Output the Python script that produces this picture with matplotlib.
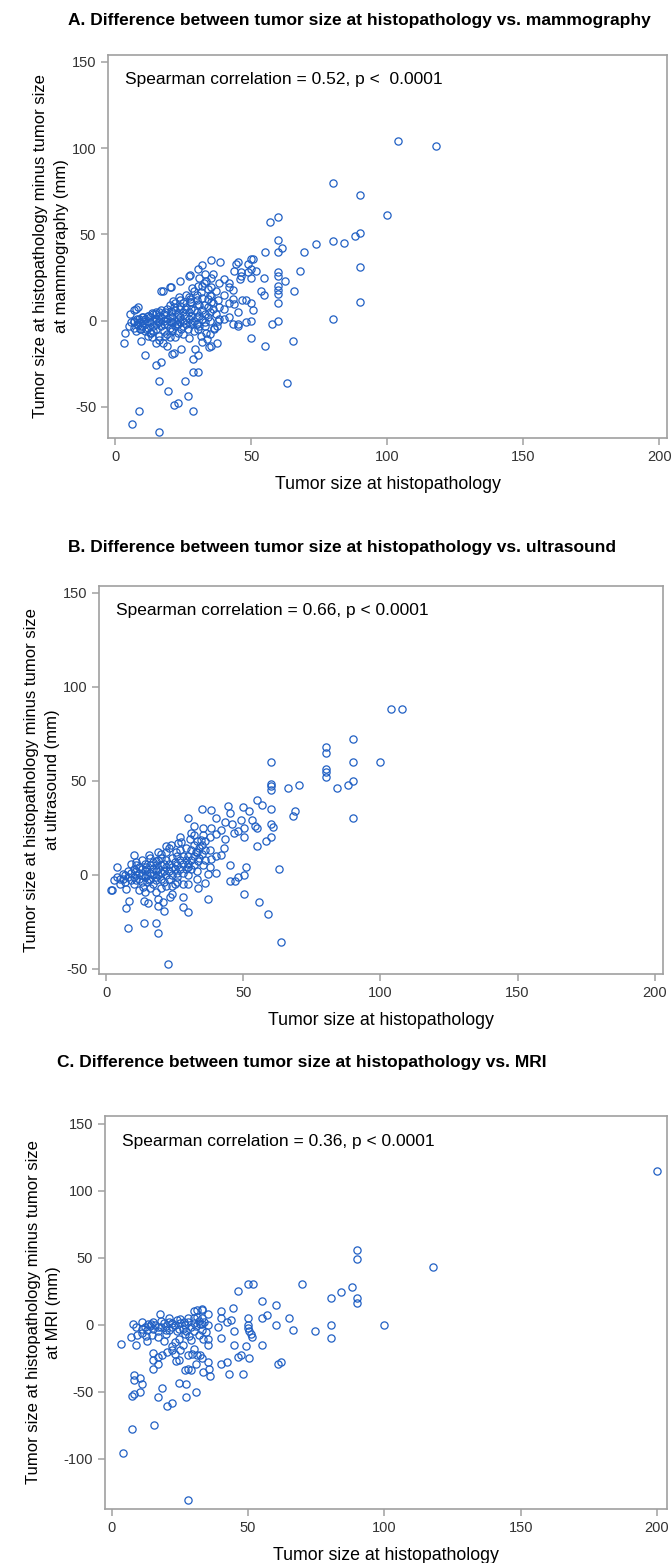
import matplotlib
matplotlib.use('Agg')
import matplotlib.pyplot as plt
import numpy as np

# --- data (tumor size at histopathology, difference) ---
a_points = [(80,80),(90,73),(100,61),(104,104),(118,101),
    (60,60),(57,57),(60,47),(61.5,42),(60,40),(55,40),(69.5,40),(74,44.5),(80,46),(84,45),(88,49),(90,51),(90,31),(90,11),(80,1),
    (68,29),(65.6,17),(65.5,-12),(63.3,-36),(62.5,23),(60,28),(60,25.7),(60,20),(60,17.6),(60,15.5),(60,10),(60,0),(57.5,-2),
    (54.6,24.8),(54.6,15),(53.7,17.4),(55.2,-14.5),(50,-10),(50,0),(50,10),(50.8,6),(48,12),(46.8,12),(50,25),(50,30),(49,28),
    (50.6,36),(50,36),(51.8,29),(48.7,33),(46.4,28),(45,34),(44.4,32.7),(43.7,28.6),(45.8,24),(46.1,26),(42,22),(43.4,18),(42,19.7),
    (40.2,24),(38.2,22),(40,15),(42,10),(43.2,12.6),(43.7,9.7),(45,4.8),(43.2,-2),(45,-2),(45,-3),(48,-1),(42,2),(40.2,1),(40.2,6.8),
    (38.2,8),(38.2,1),(37.5,-3),(36.3,-4),(38.5,34),(35.4,35.4),(32.1,32),(30.4,30),(27.5,26.7),(27,26),(23.8,23),(20.7,19.7),
    (20.1,19.7),(17,17),(17.6,17.4),(21.2,11.6),(35.4,24.6),(33.5,23),(32.7,21.7),(32,20),(30.4,20.3),(28.3,18.8),(34,18.4),
    (35.1,19.7),(31.5,16.4),(35.1,14.5),(34,12.6),(35.1,10.6),(32.7,9.3),(30.4,9.7),(27.5,12.6),(27.5,10.6),(25.8,6.8),(23.4,13.5),
    (23.9,8.7),(21.8,7.7),(20.6,5.8),(18.5,4.8),(16,4.8),(14.9,3.9),(13.5,4.4),(12,2.9),(10.1,1.9),(8.7,1),(7.1,-1),(8.3,-2.5),
    (5.4,3.9),(6.8,6.2),(7.7,6.8),(8.6,7.7),(3.7,-7.4),(3.1,-13),(9.5,-11.6),(11.1,-19.7),(14.9,-25.7),(16.9,-24.2),(16.1,-34.8),
    (14.9,-13),(17.5,-13),(19,-14.5),(19.6,-40.6),(21.8,-49),(23.2,-47.6),(20.9,-19.3),(21.5,-19),(24.4,-16.4),(25.6,-34.8),
    (26.8,-43.7),(28.6,-52.2),(28.6,-30),(30.4,-30),(28.5,-22.2),(30.4,-19.9),(29.5,-16.4),(32.1,-12.2),(33.7,-10.6),(33.3,-7.2),
    (31.5,-8.7),(35.1,-14.5),(34.6,-15.5),(37.4,-13.2),(36.3,-4.8),(30.4,-4.8),(30,-1.9),(28.2,-1),(26.8,-4.8),(24.4,-4.8),
    (22.6,-1.9),(20.8,-4.8),(22,-9.7),(20.2,-9.7),(18.5,-8.7),(16.1,-8.7),(13.1,-7.2),(13.7,-9.7),(11.3,-4.8),(9.5,-4.8),(7.7,-5.8),
    (8.9,-52.2),(6.2,-60),(16.1,-64.8),
    # dense cluster
    (5,-3),(6,-1),(7,-4),(7,0),(8,-2),(8,1),(9,-5),(9,-1),(10,0),(10,-3),(10,2),(11,-6),(11,-2),(11,1),(12,0),(12,-4),(12,3),
    (13,-1),(13,-7),(13,2),(14,0),(14,-3),(14,4),(15,-2),(15,1),(15,-5),(15,5),(16,0),(16,-1),(16,3),(17,-3),(17,2),(17,6),
    (18,0),(18,-6),(18,4),(19,1),(19,-2),(19,7),(20,0),(20,3),(20,-4),(20,9),(21,2),(21,-1),(21,5),(22,0),(22,-3),(22,6),(22,10),
    (23,1),(23,4),(23,-2),(24,2),(24,7),(24,-1),(25,0),(25,5),(25,10),(25,-3),(26,3),(26,8),(27,1),(27,5),(27,14),(28,-2),(28,3),
    (28,7),(28,11),(29,0),(29,6),(30,2),(30,-2),(30,5),(30,12),(30,15),(31,3),(31,9),(32,1),(32,6),(32,13),(33,4),(33,-1),(34,8),
    (34,2),(35,5),(35,0),(35,15),(36,7),(36,10),(37,4),(38,0),(38,12),(12,-9),(14,-6),(16,-11),(18,-2),(19,-8),(21,-6),(23,-7),
    (25,-8),(26,-2),(27,-10),(29,-6),(31,-3),(33,-3),(35,-8),(24,12),(26,15),(29,17),(31,25),(33,27),(36,27),(37,17)]

b_points = [(90,72),(80,68),(80,65),(80,56),(80,54.7),(80,52.2),(90,60),(100,60),(90,50),(88.2,47.8),(84.1,46),(90,30),(104,88),(108,88),
    (60.2,60),(60.2,48.5),(60.2,47.1),(60.2,44.9),(66.3,46.4),(70.3,48),(69,34.1),(68,31.1),(60.2,35),(55.1,40),(56.9,37.1),
    (52.1,34.1),(49.9,36),(44.6,36.4),(45,32.9),(40,30),(34.9,35),(38.1,34.6),(29.9,30),(32.1,25.8),(35.3,25),(38.1,24.9),
    (40.1,21.8),(41.7,23.6),(43.5,28.1),(46,27),(46.5,22.2),(48.2,23.1),(50.1,24.9),(50.1,19.9),(49,29),(53,29),(54.1,26.1),
    (55.1,24.7),(60.2,27),(60.7,25.4),(60.2,19.9),(58.1,17.9),(55.1,15.1),(62.9,3.2),(51.1,4.1),(50.1,0),(48.2,-0.9),(47,-3.2),
    (45,-3.2),(45,5),(50.1,-10.1),(55.6,-14.6),(59.1,-21),(63.9,-35.9),(43.1,14.2),(43.5,19.2),(41.9,10.3),(40.1,10.1),(40.1,1.1),
    (37.1,-13),(36,-4.3),(33.5,-7.1),(33.1,-2.1),(29.9,-4.8),(28,-11.9),(28,-17.2),(29.9,-19.9),(24.1,-10.1),(23.1,-11.9),
    (20.9,-14.6),(19,-12.8),(19,-16.3),(21,-19.4),(15.1,-15.1),(13.9,-13.9),(8.4,-13.7),(7.4,-17.4),(8,-28.1),(13.9,-25.8),
    (18,-25.4),(19,-31.1),(22.5,-47.6),(2.2,-8),(1.7,-8.3),(4.1,4.1),(4.9,-2.1),(6.1,0.5),(10,10.3),(15.8,10.3),(21.9,15.1),
    (23.7,15.6),(26.2,16.9),(27.4,17.2),(30.4,19.2),(32.2,21),(35.3,21),(34.7,18.3),(37.7,13),(38.3,8.5),(37.9,4.1),(35.3,5),
    (37.1,0.5),(29.8,4.1),(28,-4.8),(25.9,-1.2),(7.3,-7.5),(13.4,-6.6),(15.8,-3),(18.2,-1.2),(10.9,5),(14.6,4.1),(18.2,7.6),
    (20.1,11.2),(25.5,12.1),(32.8,12.1),(33.5,7.6),
    # dense cluster
    (6,-2),(7,0),(7,-4),(8,-1),(8,2),(9,-3),(9,1),(10,-1),(10,3),(10,-5),(11,0),(11,-3),(11,2),(12,-2),(12,1),(12,4),(13,0),
    (13,-4),(13,3),(14,-1),(14,2),(14,6),(15,0),(15,-4),(15,3),(16,1),(16,-2),(16,5),(17,0),(17,3),(17,-5),(17,7),(18,2),(18,-3),
    (18,5),(19,0),(19,3),(19,8),(20,1),(20,-2),(20,5),(20,9),(21,2),(21,6),(21,-4),(22,0),(22,4),(22,8),(22,12),(23,2),(23,6),
    (23,-2),(24,4),(24,9),(24,0),(25,3),(25,7),(25,-5),(26,5),(26,10),(26,1),(27,3),(27,8),(27,13),(28,6),(28,1),(28,10),(29,8),
    (29,3),(29,14),(30,6),(30,10),(30,0),(31,8),(31,13),(31,3),(32,10),(32,5),(32,16),(33,12),(33,2),(34,9),(34,14),(35,11),
    (35,16),(36,8),(36,13),(12,-8),(14,-9),(16,-7),(18,-9),(20,-7),(22,-6),(24,-6),(26,-4),(9,6),(11,7),(13,8),(16,9),(19,12),
    (23,14),(27,20),(31,22),(33,18),(36,18),(38,20),(5,-5),(4,-1),(3,-3)]

c_points = [(90,56),(90,49),(90,20),(90,16),(88.3,28),(84.2,24),(80.3,20),(80.3,0),(80.3,-10),(74.6,-5),(69.9,30),(66.5,-4),(65,5),
    (62.2,-28),(60.8,-29.4),(60.2,0),(60.2,15),(57.1,7),(55.2,5),(55.2,18),(55.2,-15),(51.9,30),(50.1,30),(46.2,25),(44.6,12.7),
    (40.2,10),(40.2,5),(40.2,-10),(40.2,-29.7),(42.1,-28.2),(43.1,-36.7),(43.6,3.7),(42.1,2),(44.9,-4.7),(44.9,-15),(46.2,-24.2),
    (47.3,-22.4),(49.1,-16),(50.2,-24.9),(48.2,-36.7),(50.1,5),(50.1,0),(50.1,-2.2),(50.2,-4.7),(51.1,-6.7),(51.3,-9.2),(35.2,8),
    (35.2,0),(35.2,-10.5),(35.2,-15),(35.2,-28),(35.8,-33),(36,-38.7),(33.6,-35.4),(33.2,-24.7),(33.6,-10.5),(33.2,0.7),(33,10.7),
    (33,12),(31.1,10.7),(31.1,5.7),(30.3,5.2),(30.9,-29.2),(30.9,-50),(29.2,-33.7),(28,-33.2),(27,-34.2),(27.2,-44.1),(27.2,-54.1),
    (24.6,-43.6),(22.1,-58.6),(20.2,-61.1),(18.5,-47.6),(16.9,-54.1),(16.9,-29.2),(15.1,-33),(15.1,-26.2),(15.1,-21),(17,-24.2),
    (18.3,-22.4),(20.4,-20.4),(21.9,-18.7),(23.6,-27.2),(24.5,-26.2),(27.8,-23),(29.5,-22.2),(31.2,-23),(32.2,-23),(23,-13),
    (24.7,-10.5),(26.7,-7.2),(28.4,-8.2),(30,-18),(33.2,-4.2),(8,-37.4),(8,-41.6),(10.2,-39.7),(11.1,-44.1),(10.2,-50),(7.4,-53),
    (8.2,-52),(7.3,-78),(15.4,-75),(3.3,-14.5),(7,-9),(8.9,-15),(9.3,-8),(7.9,0.2),(10.9,2.2),(11.1,-3),(12.5,-8.5),(13.1,0.2),
    (14.3,0.2),(14.9,-8),(16.9,-1.7),(17.8,8),(19.7,-3.7),(20.9,5.2),(22.1,1.2),(23.8,3.7),(24.5,-3),(26.6,2),(27.4,-4.7),
    (29.2,-11.7),(30.3,10),(32.2,0.7),(34.4,-5.5),(39,-1.7),(118,43),(200,115),(100,0),(4,-96),(28,-131),
    # dense cluster
    (12,-2),(13,-4),(14,-1),(15,-3),(16,0),(17,-5),(18,-2),(19,1),(20,-1),(21,-4),(22,-2),(23,0),(24,-5),(25,1),(26,-3),(27,0),
    (28,2),(29,-2),(30,1),(31,-1),(32,3),(33,5),(34,2),(15,2),(18,3),(21,2),(25,4),(28,5),(30,-5),(32,-8),(20,-7),(17,-9),
    (19,-12),(22,-16),(25,-19),(26,-15),(13,-12),(11,-6),(9,-2),(23,-22)]

panel_titles = ['A. Difference between tumor size at histopathology vs. mammography',
                'B. Difference between tumor size at histopathology vs. ultrasound',
                'C. Difference between tumor size at histopathology vs. MRI']
annotations = ['Spearman correlation = 0.52, p <  0.0001',
               'Spearman correlation = 0.66, p < 0.0001',
               'Spearman correlation = 0.36, p < 0.0001']
ylabels = ['Tumor size at histopathology minus tumor size\nat mammography (mm)',
           'Tumor size at histopathology minus tumor size\nat ultrasound (mm)',
           'Tumor size at histopathology minus tumor size\nat MRI (mm)']
xlabel = 'Tumor size at histopathology'
xticks = [0, 50, 100, 150, 200]
yticks = [[-50, 0, 50, 100, 150], [-50, 0, 50, 100, 150], [-100, -50, 0, 50, 100, 150]]
ylims = [(-68, 154), (-52.7, 153.5), (-137.6, 155.7)]
xlims = [(-2.6, 202.8), (-2.6, 203), (-2.5, 203.7)]

plt.rcParams['font.family'] = ['Liberation Sans', 'DejaVu Sans']
plt.rcParams['axes.unicode_minus'] = False

W, H = 671, 1563
fig = plt.figure(figsize=(W / 100, H / 100), dpi=100)

# axes boxes in pixels: left, right, top, bottom
boxes = [(108, 667, 55, 438), (99, 663, 586, 974), (105, 667, 1116, 1509)]
title_pos = [(68, 20), (68, 548), (57, 1063)]

for i, pts in enumerate([a_points, b_points, c_points]):
    hist, diff = np.array(pts).T
    l, r, t, b = boxes[i]
    ax = fig.add_axes([l / W, 1 - b / H, (r - l) / W, (b - t) / H])
    ax.plot(hist, diff, 'o', ms=5.2, mfc='none', mec='#2160c4', mew=0.9)
    ax.set_xlim(*xlims[i])
    ax.set_ylim(*ylims[i])
    ax.set_xticks(xticks)
    ax.set_yticks(yticks[i])
    for s in ax.spines.values():
        s.set_color('#a0a0a0')
        s.set_linewidth(1.2)
    ax.tick_params(color='#a0a0a0', width=1.1, length=5, labelsize=10.5, labelcolor='#333333')
    ax.set_xlabel(xlabel, fontsize=12.8, labelpad=9)
    ax.set_ylabel(ylabels[i], fontsize=12, labelpad=2, linespacing=1.45)
    ax.text(0.03, 0.955, annotations[i], transform=ax.transAxes, fontsize=12.5, va='top', ha='left')
    tx, ty = title_pos[i]
    fig.text(tx / W, 1 - ty / H, panel_titles[i], fontsize=12.5, fontweight='bold', va='center', ha='left')

fig.savefig('out.png', dpi=100)
